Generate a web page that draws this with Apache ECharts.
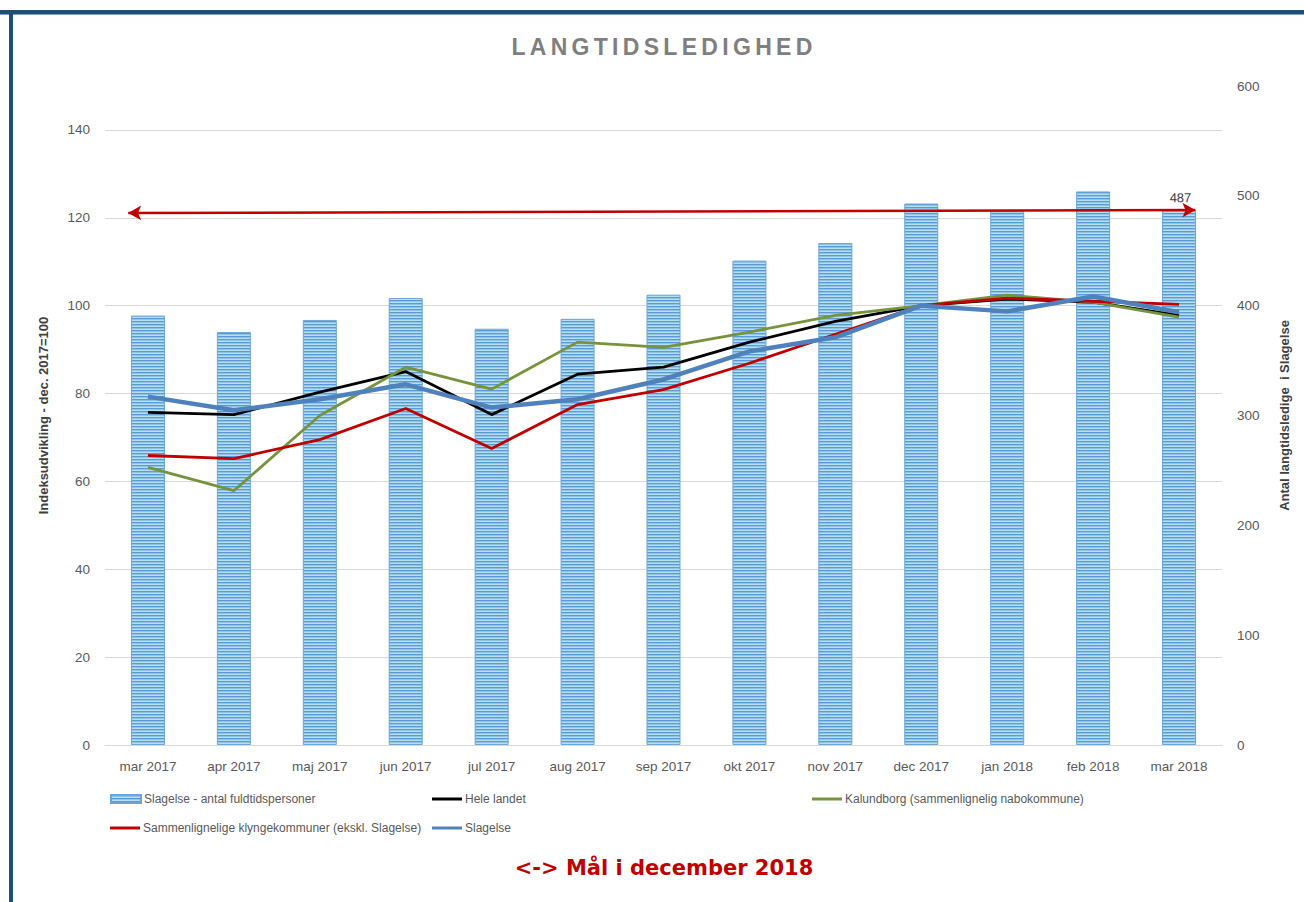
<!DOCTYPE html>
<html><head><meta charset="utf-8">
<script src="https://cdn.jsdelivr.net/npm/echarts@6/dist/echarts.min.js"></script>
<style>html,body{margin:0;padding:0;background:#fff}#chart{width:1304px;height:902px}</style>
</head><body><div id="chart"></div>
<script>
const categories = ['mar 2017','apr 2017','maj 2017','jun 2017','jul 2017','aug 2017','sep 2017','okt 2017','nov 2017','dec 2017','jan 2018','feb 2018','mar 2018'];
const slagelseCount = [391, 376, 387, 407, 379, 388, 410, 441, 457, 493, 486, 504, 487];
const heleLandet = [75.7, 75.2, 80.3, 85.0, 75.2, 84.4, 86.0, 91.7, 96.4, 100, 101.5, 100.8, 97.8];
const kalundborg = [63.2, 57.9, 75.0, 86.0, 81.0, 91.7, 90.5, 94.0, 97.8, 100, 102.4, 100.8, 97.4];
const klyngekommuner = [65.9, 65.2, 69.5, 76.6, 67.5, 77.5, 80.9, 86.9, 93.5, 100, 101.7, 101.0, 100.3];
const slagelseIndex = [79.3, 76.2, 78.7, 82.1, 76.8, 78.7, 83.2, 89.6, 92.8, 100, 98.7, 102.1, 98.5];
const goalX = [-0.23, 12.19];
const goalY = [484.4, 487];
const goalLabel = '487';
const leftAxisRange = [0, 150, 20];
const rightAxisRange = [0, 600, 100];

const names = ['Slagelse - antal fuldtidspersoner','Hele landet','Kalundborg (sammenlignelig nabokommune)','Sammenlignelige klyngekommuner (ekskl. Slagelse)','Slagelse'];

// striped bar fill
const pc = document.createElement('canvas');
pc.width = 4; pc.height = 3;
const pctx = pc.getContext('2d');
pctx.fillStyle = '#5b9bd5'; pctx.fillRect(0,0,4,1);
pctx.fillStyle = '#8fc4e6'; pctx.fillRect(0,1,4,1);
pctx.fillStyle = '#b4def2'; pctx.fillRect(0,2,4,1);
const stripe = {image: pc, repeat: 'repeat', imageWidth: 4, imageHeight: 3};

const FONT = "'Liberation Sans', Arial, sans-serif";
const chart = echarts.init(document.getElementById('chart'), null, {renderer: 'svg'});

function legendAt(name, left, top) {
  return {
    data: [name], left: left, top: top, padding: 0, itemWidth: 30, itemHeight: name === names[0] ? 8 : 3,
    itemGap: 5, icon: 'rect', selectedMode: false,
    textStyle: {color: '#595959', fontSize: 12, fontFamily: FONT, padding: [0,0,0,-2]}
  };
}

const option = {
  animation: false,
  backgroundColor: '#fff',
  legend: [
    legendAt(names[0], 110, 793),
    legendAt(names[1], 432, 793),
    legendAt(names[2], 812, 793),
    legendAt(names[3], 110, 822),
    legendAt(names[4], 432, 822)
  ],
  grid: {left: 105, right: 82, top: 86, bottom: 157},
  xAxis: [{
    type: 'category', data: categories,
    axisLine: {lineStyle: {color: '#d9d9d9'}},
    axisTick: {show: false},
    axisLabel: {color: '#595959', fontSize: 13.5, fontFamily: FONT, margin: 14}
  }, {
    type: 'value', min: -0.5, max: 12.5, show: false
  }],
  yAxis: [{
    type: 'value', min: leftAxisRange[0], max: leftAxisRange[1], interval: leftAxisRange[2],
    name: 'Indeksudvikling - dec. 2017=100', nameLocation: 'middle', nameGap: 55, nameRotate: 90,
    nameTextStyle: {color: '#404040', fontSize: 13, fontWeight: 'bold', fontFamily: FONT},
    axisLine: {show: false}, axisTick: {show: false},
    axisLabel: {color: '#595959', fontSize: 13.5, fontFamily: FONT, margin: 15, showMaxLabel: false},
    splitLine: {show: true, showMaxLine: false, lineStyle: {color: '#d9d9d9', width: 1}}
  }, {
    type: 'value', min: rightAxisRange[0], max: rightAxisRange[1], interval: rightAxisRange[2],
    position: 'right',
    name: 'Antal langtidsledige  i Slagelse', nameLocation: 'middle', nameGap: 56, nameRotate: 90,
    nameTextStyle: {color: '#404040', fontSize: 13, fontWeight: 'bold', fontFamily: FONT},
    axisLine: {show: false}, axisTick: {show: false},
    axisLabel: {color: '#595959', fontSize: 13.5, fontFamily: FONT, margin: 15},
    splitLine: {show: false}
  }],
  series: [{
    name: names[0], type: 'bar', yAxisIndex: 1, data: slagelseCount, barWidth: 34,
    itemStyle: {color: stripe, borderColor: '#6aa6d8', borderWidth: 1}
  }, {
    name: names[1], type: 'line', data: heleLandet, showSymbol: false, symbol: 'none',
    lineStyle: {color: '#000000', width: 2.8}, itemStyle: {color: '#000000'}
  }, {
    name: names[2], type: 'line', data: kalundborg, showSymbol: false, symbol: 'none',
    lineStyle: {color: '#77933c', width: 2.8}, itemStyle: {color: '#77933c'}
  }, {
    name: names[3], type: 'line', data: klyngekommuner, showSymbol: false, symbol: 'none',
    lineStyle: {color: '#c00000', width: 2.8}, itemStyle: {color: '#c00000'}
  }, {
    name: names[4], type: 'line', data: slagelseIndex, showSymbol: false, symbol: 'none',
    lineStyle: {color: '#4f81bd', width: 4.5}, itemStyle: {color: '#4f81bd'}
  }, {
    name: 'goal', type: 'line', xAxisIndex: 1, yAxisIndex: 1, data: [],
    markLine: {
      silent: true, symbol: ['arrow', 'arrow'], symbolSize: [11, 13],
      lineStyle: {color: '#c00000', width: 2.5, type: 'solid'},
      label: {show: true, position: 'insideEndTop', formatter: goalLabel, color: '#404040', fontSize: 13, fontFamily: FONT, distance: [4, 6]},
      data: [[{coord: [goalX[0], goalY[0]]}, {coord: [goalX[1], goalY[1]]}]]
    }
  }],
  graphic: [
    {type: 'rect', shape: {x: 0, y: 10, width: 1304, height: 4}, style: {fill: '#1f4e79'}, silent: true},
    {type: 'rect', shape: {x: 0, y: 14, width: 1304, height: 1}, style: {fill: '#7f9fbf'}, silent: true},
    {type: 'rect', shape: {x: 9, y: 10, width: 4, height: 892}, style: {fill: '#1f4e79'}, silent: true},
    {type: 'text', x: 664, y: 47, style: {text: 'LANGTIDSLEDIGHED', fill: '#7f7f7f', align: 'center', verticalAlign: 'middle', font: "bold 23px 'Liberation Sans', Arial, sans-serif"}},
    {type: 'text', x: 664, y: 868, style: {text: '<-> Mål i december 2018', fill: '#c00000', align: 'center', verticalAlign: 'middle', font: "bold 21px 'DejaVu Sans', sans-serif"}}
  ]
};
chart.setOption(option);

function spaceTitle() {
  document.querySelectorAll('#chart text').forEach(function (t) {
    if (t.textContent === 'LANGTIDSLEDIGHED') t.setAttribute('letter-spacing', '4.3');
  });
}
spaceTitle();
chart.on('finished', spaceTitle);
</script></body></html>
